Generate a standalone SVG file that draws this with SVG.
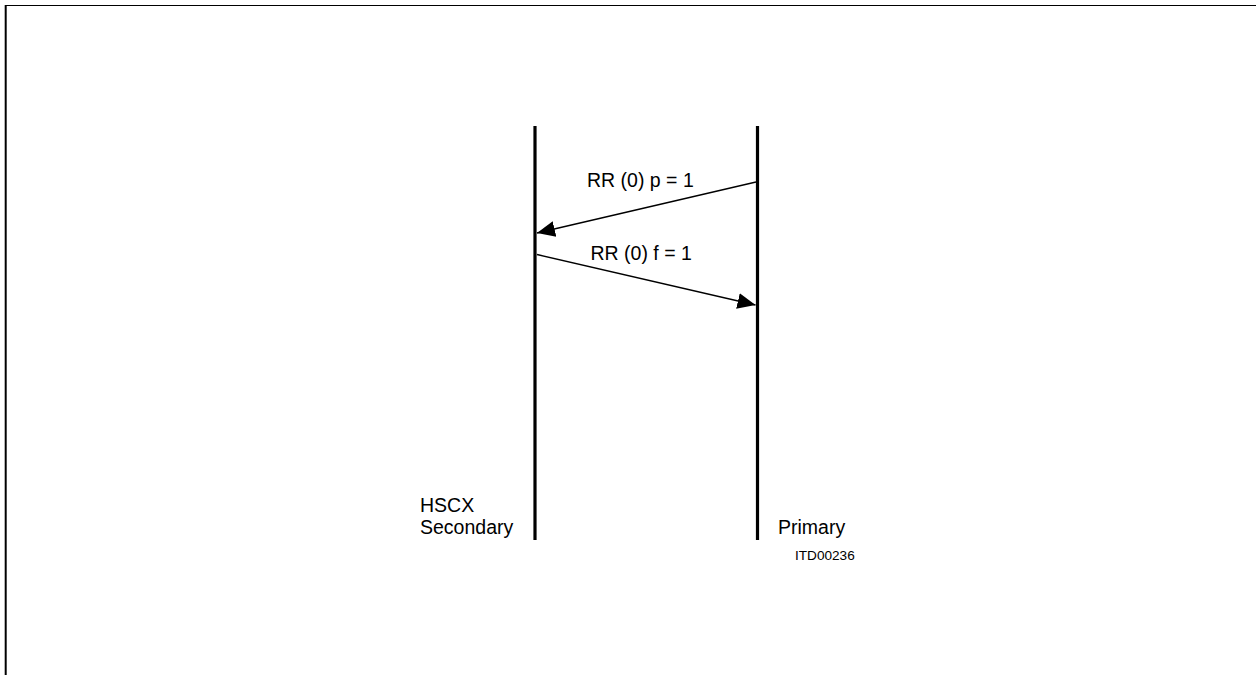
<svg xmlns="http://www.w3.org/2000/svg" width="1256" height="675" viewBox="0 0 1256 675">
<style>
.t{font-family:"Liberation Sans",Arial,sans-serif;fill:#000}
.life{stroke:#000;stroke-width:3.2}
.msg{stroke:#000;stroke-width:1.3;fill:none}
</style>
<defs>
<marker id="ah" markerUnits="userSpaceOnUse" markerWidth="20" markerHeight="18" refX="18" refY="8" orient="auto" viewBox="0 0 20 16">
<path d="M0,0 L18,8 L0,16 Z" fill="#000"/>
</marker>
</defs>
<rect width="1256" height="675" fill="#fff"/>
<g id="frame">
<line x1="5.7" y1="5.5" x2="1256" y2="5.5" stroke="#000" stroke-width="1.2"/>
<line x1="5.7" y1="5" x2="5.7" y2="675" stroke="#000" stroke-width="2"/>
</g>
<g id="secondary">
<line class="life" x1="535" y1="126" x2="535" y2="540"/>
<text class="t" x="420" y="512" font-size="19.5">HSCX</text>
<text class="t" x="420" y="533.5" font-size="19.5">Secondary</text>
</g>
<g id="primary">
<line class="life" x1="757.5" y1="126" x2="757.5" y2="540"/>
<text class="t" x="778" y="533.5" font-size="19.5">Primary</text>
</g>
<g id="connectors">
<line class="msg" x1="756" y1="182" x2="537" y2="233" marker-end="url(#ah)"/>
<line class="msg" x1="537" y1="254.5" x2="755.5" y2="305" marker-end="url(#ah)"/>
</g>
<g id="labels">
<text class="t" x="587" y="187" font-size="19.5">RR (0) p = 1</text>
<text class="t" x="590.5" y="259.5" font-size="19.5">RR (0) f = 1</text>
<text class="t" x="795" y="560" font-size="13.6">ITD00236</text>
</g>
</svg>
